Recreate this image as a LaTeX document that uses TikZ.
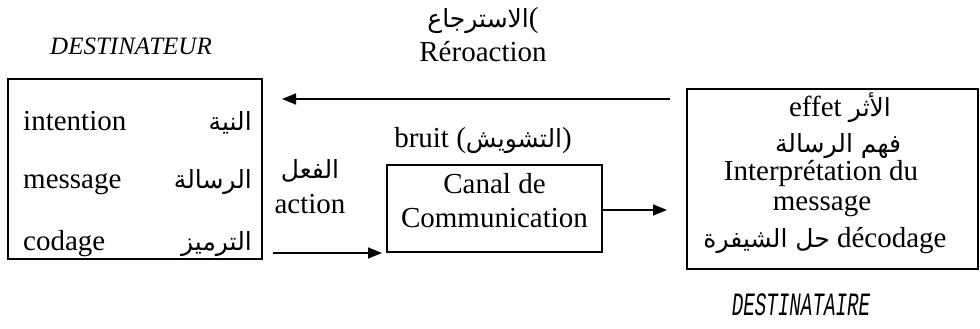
\documentclass[tikz,border=0pt]{standalone}
\usepackage{fontspec}
\setmainfont{Liberation Serif}
\newfontfamily\arabicfont[Script=Arabic]{DejaVu Sans}
\newfontfamily\monofont{Liberation Mono}
\TeXXeTstate=1
\usetikzlibrary{arrows.meta}
\newcommand{\AR}[1]{{\arabicfont\fontsize{25}{30}\selectfont\beginR #1\endR}}
\begin{document}
\begin{tikzpicture}[x=1pt,y=-1pt,
  txt/.style={inner sep=0pt,font=\fontsize{29}{34}\selectfont},
  boxnode/.style={draw,line width=1.6pt,inner sep=0pt},
  arr/.style={line width=1.6pt,-{Triangle[length=14pt,width=11pt]}}]
\useasboundingbox (0,0) rectangle (980,329);
% boxes
\node[boxnode,minimum width=254pt,minimum height=180pt] (src) at (135,169) {};
\node[boxnode,minimum width=215pt,minimum height=87pt] (canal) at (494.5,208.5) {};
\node[boxnode,minimum width=291pt,minimum height=180pt] (dst) at (832.5,179) {};
% titles
\node[txt,anchor=base,font=\fontsize{25}{30}\selectfont\itshape] (t1) at (131,55) {DESTINATEUR};
\node[txt,anchor=base] (fbar) at (483,28) {\AR{الاسترجاع}(};
\node[txt,anchor=base] (fb) at (483,62) {Réroaction};
\node[txt,anchor=base] (t2) at (801,315) {\scalebox{0.62}[1.05]{\monofont\itshape\fontsize{31}{34}\selectfont DESTINATAIRE}};
% source rows
\node[txt,anchor=base west] (r1) at (23,130) {intention};
\node[txt,anchor=base west] (r2) at (23,188) {message};
\node[txt,anchor=base west] (r3) at (23,250) {codage};
\node[txt,anchor=base east] (a1) at (252,130) {\AR{النية}};
\node[txt,anchor=base east] (a2) at (252,188) {\AR{الرسالة}};
\node[txt,anchor=base east] (a3) at (252,250) {\AR{الترميز}};
% action label
\node[txt,anchor=base] (act1) at (310,178) {\AR{الفعل}};
\node[txt,anchor=base] (act2) at (310,213) {action};
% bruit
\node[txt,anchor=base] (bruit) at (483,147) {bruit (\AR{التشويش})};
% canal text
\node[txt,anchor=base] (c1) at (494.5,193) {Canal de};
\node[txt,anchor=base] (c2) at (494.5,227) {Communication};
% destination text
\node[txt,anchor=base] (d1) at (840,117) {effet \AR{الأثر}};
\node[txt,anchor=base] (d2) at (838,152) {\AR{فهم الرسالة}};
\node[txt,anchor=base] (d3) at (821,180) {Interprétation du};
\node[txt,anchor=base] (d4) at (822,210) {message};
\node[txt,anchor=base] (d5) at (825,247) {\AR{حل الشيفرة} décodage};
% connectors
\coordinate (fbS) at (670,99);
\coordinate (fbE) at (282,99);
\coordinate (acS) at (273,253);
\coordinate (acE) at (382,253);
\coordinate (caS) at (602,210);
\coordinate (caE) at (667,210);
\draw[arr] (fbS) -- (fbE);
\draw[arr] (acS) -- (acE);
\draw[arr] (caS) -- (caE);
\end{tikzpicture}
\end{document}
